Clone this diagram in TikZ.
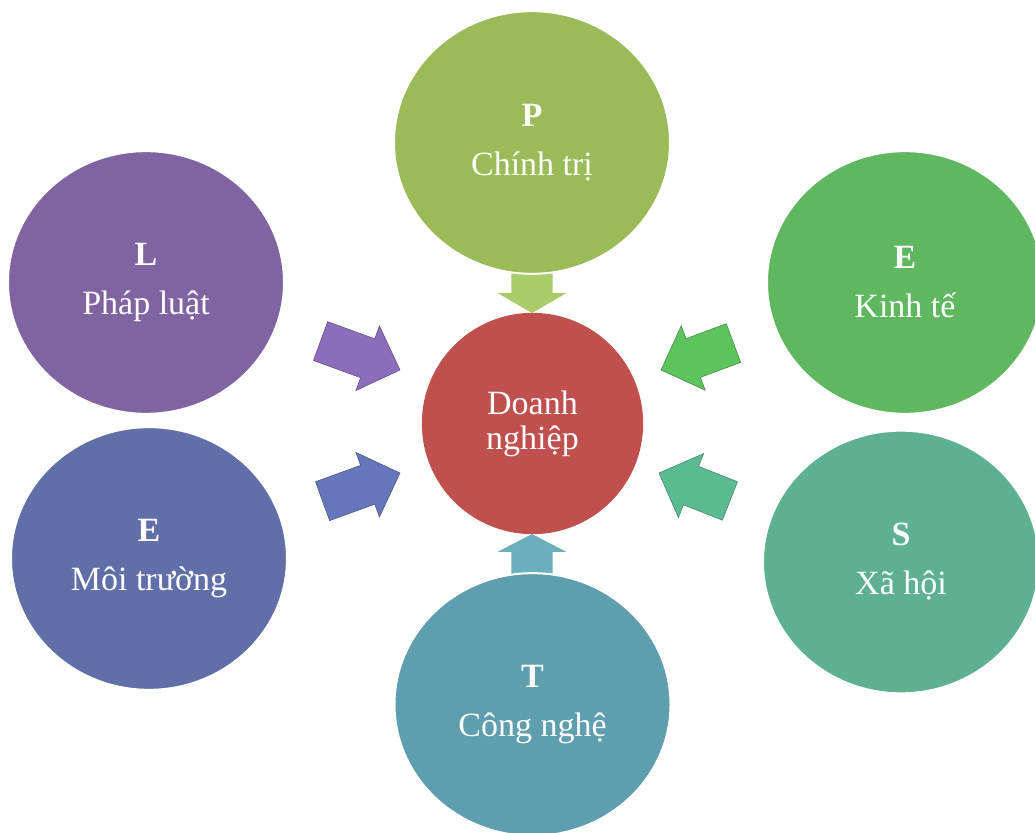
\documentclass[tikz,border=0pt]{standalone}
\usepackage{fontspec}
\setmainfont{Liberation Serif}
\usetikzlibrary{shapes.geometric,shapes.arrows}
\definecolor{centrered}{HTML}{C0504D}
\definecolor{polgreen}{HTML}{9BBB59}
\definecolor{lawpurple}{HTML}{8064A2}
\definecolor{ecogreen}{HTML}{5FB760}
\definecolor{envblue}{HTML}{606FA8}
\definecolor{socgreen}{HTML}{5DB190}
\definecolor{techteal}{HTML}{5F9EAE}
\definecolor{polarrow}{HTML}{AACD6A}
\definecolor{lawarrow}{HTML}{8A6DBB}
\definecolor{envarrow}{HTML}{6676BA}
\definecolor{ecoarrow}{HTML}{5CC35D}
\definecolor{socarrow}{HTML}{5BBB90}
\definecolor{techarrow}{HTML}{6BAFBD}

\begin{document}
\begin{tikzpicture}[x=0.75pt,y=0.75pt,
    factor/.style={ellipse,fill=#1,draw=white,line width=1.5pt,
        minimum width=207pt,minimum height=197pt,inner sep=0pt,
        text=white,align=center,font=\fontsize{25.5}{36.75}\selectfont},
    push/.style={single arrow,fill=#1,inner xsep=0pt,inner ysep=15.3pt,anchor=tip,
        outer sep=0pt,minimum width=0pt,single arrow head extend=10.3pt},
    sidepush/.style={push=#1,draw=#1!70!black,line width=0.4pt}]
    \useasboundingbox (0,0) rectangle (1035,832);
    \clip (0,0) rectangle (1035,832);
    % centre
    \node[circle,fill=centrered,minimum size=166pt,inner sep=0pt,text=white,
        align=center,font=\fontsize{25.5}{26.25}\selectfont] (dn) at (532.5,408.5) {Doanh\\nghiệp};
    % arrows towards the centre, placed by their tips
    \node[push=polarrow,minimum height=36pt,single arrow tip angle=120,rotate=-90] (arrP) at (532,519) {};
    \node[push=techarrow,minimum height=38.25pt,single arrow tip angle=125,rotate=90] (arrT) at (532,298) {};
    \node[sidepush=lawarrow,minimum height=63.4pt,rotate=-20] (arrL) at (400,462) {};
    \node[sidepush=envarrow,minimum height=61.8pt,rotate=20] (arrEnv) at (400,359) {};
    \node[sidepush=ecoarrow,minimum height=58pt,rotate=200.4] (arrEco) at (661,462) {};
    \node[sidepush=socarrow,minimum height=57.2pt,rotate=158.5] (arrS) at (659,359) {};
    % PESTEL factors
    \node[factor=polgreen] (pol) at (532,689.5) {\textbf{P}\\Chính trị};
    \node[factor=lawpurple] (law) at (146,549.5) {\textbf{L}\\Pháp luật};
    \node[factor=ecogreen] (eco) at (905,549.5) {\textbf{E}\\Kinh tế};
    \node[factor=envblue] (env) at (149,273.5) {\textbf{E}\\Môi trường};
    \node[factor=socgreen] (soc) at (901,270) {\textbf{S}\\Xã hội};
    \node[factor=techteal] (tech) at (532.5,127.5) {\textbf{T}\\Công nghệ};
\end{tikzpicture}
\end{document}
